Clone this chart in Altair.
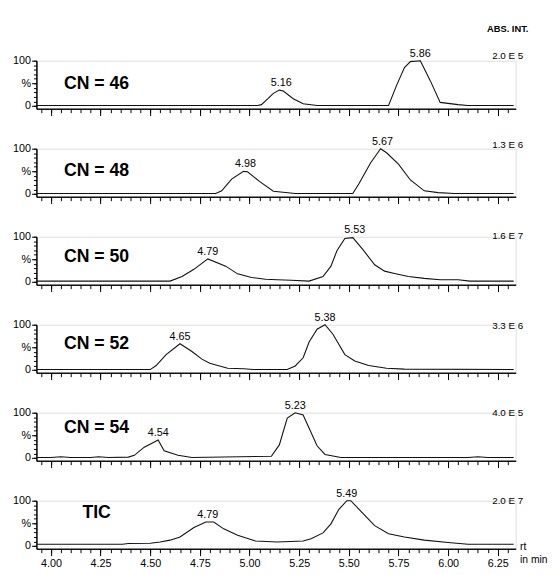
import altair as alt
import pandas as pd

FONT = "Liberation Sans"

panel_names = ["CN = 46", "CN = 48", "CN = 50", "CN = 52", "CN = 54", "TIC"]
intensities = ["2.0 E 5", "1.3 E  6", "1.6 E 7", "3.3 E 6", "4.0 E 5", "2.0 E 7"]
name_y = [49, 50, 55, 58, 66, 72]
intensity_y = [110, 109, 102, 98, 100, 99]

# retention time (min) and relative intensity (%) for each trace
t46 = [3.93, 5.04, 5.06, 5.09, 5.12, 5.15, 5.17, 5.22, 5.27, 5.34, 5.70, 5.74, 5.78, 5.81, 5.86, 5.91, 5.96, 6.05, 6.10, 6.33]
v46 = [1, 1, 3, 15, 28, 35, 33, 16, 5, 1, 1, 45, 85, 98, 100, 56, 8, 3, 1, 1]

t48 = [3.93, 4.83, 4.86, 4.91, 4.97, 4.99, 5.05, 5.12, 5.23, 5.52, 5.55, 5.61, 5.66, 5.69, 5.75, 5.81, 5.88, 5.95, 6.03, 6.33]
v48 = [1, 1, 7, 33, 50, 49, 28, 6, 1, 1, 22, 69, 100, 91, 66, 31, 7, 3, 1, 1]

t50 = [3.93, 4.60, 4.66, 4.72, 4.79, 4.88, 4.94, 5.01, 5.08, 5.14, 5.21, 5.30, 5.37, 5.41, 5.44, 5.48, 5.52, 5.57, 5.63, 5.68, 5.73, 5.80, 5.88, 5.96, 6.05, 6.11, 6.33]
v50 = [2, 2, 12, 28, 51, 35, 18, 10, 6, 5, 4, 2, 12, 35, 69, 96, 98, 72, 38, 24, 19, 12, 8, 5, 5, 2, 2]

t52 = [3.93, 4.50, 4.53, 4.58, 4.65, 4.71, 4.76, 4.80, 4.89, 4.97, 5.02, 5.19, 5.23, 5.27, 5.30, 5.34, 5.38, 5.42, 5.48, 5.53, 5.60, 5.69, 5.78, 6.33]
v52 = [1, 1, 10, 34, 58, 41, 24, 15, 4, 3, 1, 1, 9, 27, 62, 90, 100, 79, 34, 20, 10, 4, 2, 1]

t54 = [3.93, 4.00, 4.05, 4.10, 4.20, 4.24, 4.29, 4.39, 4.42, 4.47, 4.54, 4.57, 4.64, 4.71, 5.11, 5.15, 5.19, 5.23, 5.27, 5.34, 5.38, 5.46, 6.10, 6.15, 6.20, 6.33]
v54 = [1, 1, 3, 1, 1, 3, 1, 2, 6, 24, 40, 16, 6, 1, 4, 29, 88, 100, 95, 27, 8, 1, 1, 3, 1, 1]

tTIC = [3.93, 4.36, 4.39, 4.50, 4.55, 4.60, 4.65, 4.72, 4.78, 4.82, 4.87, 4.94, 5.03, 5.14, 5.27, 5.31, 5.37, 5.41, 5.45, 5.49, 5.51, 5.56, 5.63, 5.70, 5.78, 5.88, 6.00, 6.10, 6.33]
vTIC = [4, 4, 5.5, 6, 9, 13, 20, 41, 53, 53, 38, 24, 11, 9, 11, 16, 29, 49, 81, 100, 100, 77, 45, 27, 20, 13, 8, 4, 4]

traces_t = [t46, t48, t50, t52, t54, tTIC]
traces_v = [v46, v48, v50, v52, v54, vTIC]

peak_t = [[5.16, 5.86], [4.98, 5.67], [4.79, 5.53], [4.65, 5.38], [4.54, 5.23], [4.79, 5.49]]
peak_v = [[35, 100], [50, 100], [51, 100], [58, 100], [40, 100], [53, 100]]

x_minor = [round(3.95 + 0.05 * k, 2) for k in range(48)]
x_major = [4.00, 4.25, 4.50, 4.75, 5.00, 5.25, 5.50, 5.75, 6.00, 6.25]
y_minor = [0, 10, 20, 30, 40, 50, 60, 70, 80, 90, 100]
y_major = [0, 50, 100]

X_DOMAIN = [3.927, 6.34]
Y_DOMAIN = [-6, 100]
W, H = 489, 49
LABEL_T = 6.30

common = dict(tickColor="black", domainColor="black", tickWidth=1, domainWidth=1,
              grid=False, labelOverlap=False, labelFlush=False)


def make_panel(i, bottom):
    line_df = pd.DataFrame({"t": traces_t[i], "v": traces_v[i]})
    peak_df = pd.DataFrame({"t": peak_t[i], "v": peak_v[i],
                            "lab": [f"{p:.2f}" for p in peak_t[i]]})
    name_df = pd.DataFrame({"t": [4.23], "v": [name_y[i]], "lab": [panel_names[i]]})
    int_df = pd.DataFrame({"t": [LABEL_T], "v": [intensity_y[i]], "lab": [intensities[i]]})

    xs = alt.Scale(domain=X_DOMAIN, nice=False, zero=False)
    ys = alt.Scale(domain=Y_DOMAIN, nice=False, zero=False)

    x_minor_axis = alt.Axis(values=x_minor, tickSize=4, labels=False, title=None,
                            orient="bottom", **common)
    y_minor_axis = alt.Axis(values=y_minor, tickSize=3, labels=False, title=None,
                            orient="left", **common)
    if bottom:
        x_major_axis = alt.Axis(
            values=x_major, tickSize=7, orient="bottom",
            labels=True, format=".2f",
            labelFontSize=11, labelFont=FONT, labelColor="black", labelPadding=2,
            title=["rt", "in min"], titleX=W + 4, titleY=-7, titleAlign="left",
            titleBaseline="top", titleAngle=0, titleFontWeight="normal",
            titleFontSize=10.5, titleFont=FONT, titleLineHeight=13, titleColor="black",
            **common,
        )
    else:
        x_major_axis = alt.Axis(values=x_major, tickSize=7, orient="bottom",
                                labels=False, title=None, **common)
    y_major_axis = alt.Axis(
        values=y_major, tickSize=5, orient="left",
        labelExpr="datum.value == 100 ? '100' : datum.value == 50 ? '%' : '0'",
        labelFontSize=11, labelFont=FONT, labelColor="black", labelPadding=1,
        title=None, **common,
    )

    line = alt.Chart(line_df).mark_line(color="#111111", strokeWidth=1.1).encode(
        x=alt.X("t:Q", scale=xs, axis=x_minor_axis),
        y=alt.Y("v:Q", scale=ys, axis=y_minor_axis),
    )
    peaks = alt.Chart(peak_df).mark_text(
        fontSize=11, font=FONT, baseline="bottom", dy=-2, color="black"
    ).encode(x=alt.X("t:Q", scale=xs, axis=x_major_axis),
             y=alt.Y("v:Q", scale=ys, axis=y_major_axis), text="lab:N")
    name = alt.Chart(name_df).mark_text(
        fontSize=18, font=FONT, fontWeight="bold", align="center", baseline="middle", color="black"
    ).encode(x=alt.X("t:Q", scale=xs, axis=None), y=alt.Y("v:Q", scale=ys, axis=None), text="lab:N")
    inten = alt.Chart(int_df).mark_text(
        fontSize=10, font=FONT, align="center", baseline="middle", color="black"
    ).encode(x=alt.X("t:Q", scale=xs, axis=None), y=alt.Y("v:Q", scale=ys, axis=None), text="lab:N")
    layers = [line, peaks, name, inten]
    if i == 0:
        head_df = pd.DataFrame({"t": [LABEL_T], "v": [170], "lab": ["ABS. INT."]})
        head = alt.Chart(head_df).mark_text(
            fontSize=9.5, font=FONT, fontWeight="bold", align="center", baseline="middle", color="black"
        ).encode(x=alt.X("t:Q", scale=xs, axis=None), y=alt.Y("v:Q", scale=ys, axis=None), text="lab:N")
        layers.append(head)
    return alt.layer(*layers).resolve_axis(x="independent", y="independent").properties(width=W, height=H)


panels = [make_panel(i, i == 5) for i in range(6)]
chart = alt.vconcat(*panels, spacing=40.8, bounds="flush").properties(
    padding={"left": 4, "top": 10, "right": 0, "bottom": 0}
).configure_view(stroke=None).configure(font=FONT, background="white")

chart.save("out.html", embed_options={"renderer": "svg", "actions": False})
